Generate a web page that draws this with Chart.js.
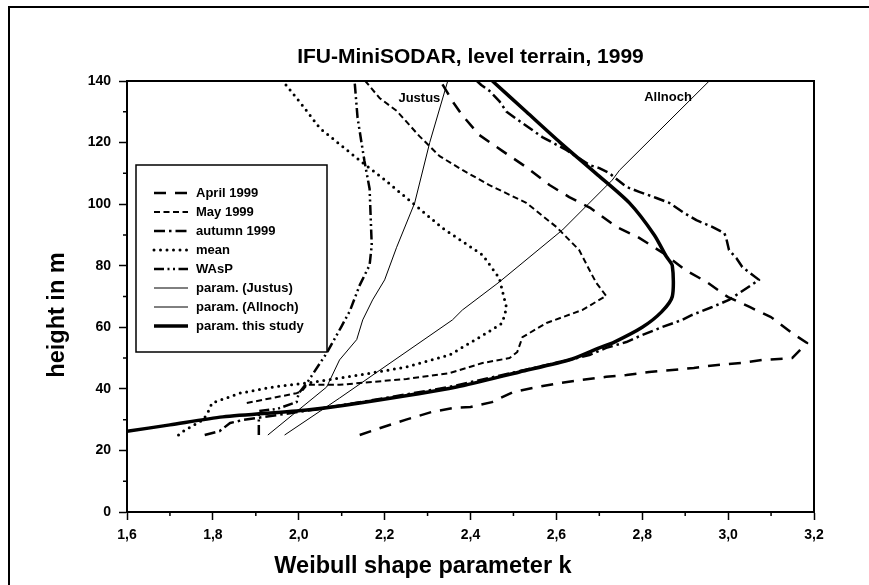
<!DOCTYPE html>
<html>
<head>
<meta charset="utf-8">
<script src="https://cdn.jsdelivr.net/npm/chart.js@4.4.1/dist/chart.umd.min.js"></script>
<style>
  html, body { margin: 0; padding: 0; background: #fff; }
  #wrap { width: 869px; height: 585px; position: relative; }
</style>
</head>
<body>
<div id="wrap"><canvas id="weibullChart" width="869" height="585"></canvas></div>
<script>
// values: shape parameter k against height in m
const aprilK = [2.142, 2.19, 2.25, 2.31, 2.36, 2.40, 2.45, 2.50, 2.556, 2.61, 2.66, 2.716, 2.763, 2.816, 2.87, 2.92, 2.97, 3.03, 3.08, 3.149, 3.184, 3.149, 3.10, 3.05, 3.00, 2.95, 2.90, 2.85, 2.79, 2.74, 2.68, 2.63, 2.584, 2.53, 2.474, 2.42, 2.38, 2.36, 2.33];
const aprilH = [25, 27.3, 30, 32.5, 33.8, 34.1, 35.7, 39, 40.6, 41.9, 42.9, 43.9, 44.5, 45.5, 46.1, 46.8, 47.7, 48.4, 49.4, 50, 54.9, 58.1, 63.3, 66.6, 69.8, 74.7, 78.6, 84, 89.3, 92.6, 98.7, 102.3, 106.2, 112, 117.3, 122.5, 129, 133, 140];

const mayK = [1.879, 1.995, 2.007, 2.019, 2.095, 2.142, 2.251, 2.351, 2.428, 2.491, 2.509, 2.521, 2.577, 2.66, 2.716, 2.693, 2.677, 2.653, 2.6, 2.53, 2.444, 2.381, 2.328, 2.281, 2.228, 2.188, 2.155];
const mayH = [35.4, 38.6, 39.2, 41.3, 41.3, 41.9, 43.2, 45.1, 48.4, 50, 52, 56.8, 61.4, 65.6, 70.2, 74.4, 78.6, 85.1, 92.6, 100.4, 106.2, 111.1, 115.6, 122.1, 130.3, 134.5, 140];

const autumnK = [1.781, 1.816, 1.84, 1.87, 2.0, 2.15, 2.35, 2.50, 2.63, 2.677, 2.716, 2.763, 2.80, 2.847, 2.893, 2.916, 2.963, 3.002, 3.072, 3.033, 3.019, 3.002, 2.995, 2.991, 2.963, 2.926, 2.898, 2.863, 2.833, 2.793, 2.763, 2.723, 2.70, 2.677, 2.623, 2.567, 2.514, 2.484, 2.467, 2.444, 2.425, 2.415];
const autumnH = [25, 26.3, 28.9, 29.9, 32.5, 35.8, 40.6, 45.3, 49.4, 51, 53.3, 55.2, 57.5, 60.1, 62.4, 64, 66.6, 68.9, 75.4, 79.6, 82.5, 85.1, 89.3, 90.6, 92.6, 94.8, 97.1, 100.4, 102, 104, 105.6, 110.1, 111.7, 112.7, 117.6, 121.8, 127, 130, 133.5, 136.8, 138.7, 140];

const meanK = [1.72, 1.735, 1.777, 1.788, 1.798, 1.863, 1.94, 2.019, 2.095, 2.142, 2.251, 2.351, 2.437, 2.474, 2.484, 2.467, 2.428, 2.335, 2.265, 2.195, 2.149, 2.049, 2.009, 1.963];
const meanH = [25, 26.6, 29.9, 32.2, 35.4, 38.6, 40.6, 41.9, 43.5, 44.5, 47.1, 51, 58.1, 61.4, 66.3, 76, 83.5, 92.2, 100.4, 108.5, 113.4, 124.7, 132, 140];

const waspK = [1.907, 1.907, 1.95, 1.995, 2.0, 2.019, 2.065, 2.1, 2.119, 2.142, 2.165, 2.17, 2.165, 2.153, 2.137, 2.13];
const waspH = [25, 32.8, 33.5, 35.7, 38.6, 41.9, 51.6, 60.4, 65.3, 73.7, 80.2, 86.7, 105, 114, 128, 140];

const justusK = [1.928, 2.065, 2.095, 2.135, 2.149, 2.172, 2.2, 2.228, 2.27, 2.305, 2.347];
const justusH = [25, 40.6, 49.4, 56, 62.4, 68.9, 75.4, 86, 100.4, 120, 140];

const allnochK = [1.967, 2.095, 2.358, 2.381, 2.467, 2.614, 2.73, 2.747, 2.956];
const allnochH = [25, 37, 62.4, 65.6, 74.7, 91.6, 107.8, 111, 140];

const studyK = [1.60, 1.70, 1.823, 2.019, 2.142, 2.367, 2.514, 2.637, 2.70, 2.735, 2.80, 2.845, 2.87, 2.87, 2.856, 2.828, 2.77, 2.692, 2.609, 2.53, 2.451];
const studyH = [26.2, 28.3, 30.9, 33.1, 35.4, 40.6, 45.5, 49.7, 53.3, 55.2, 60, 65, 70, 80, 83, 90, 100.4, 110, 120, 130, 140];

const seriesNames = ['April 1999', 'May 1999', 'autumn 1999', 'mean', 'WAsP', 'param. (Justus)', 'param. (Allnoch)', 'param. this study'];
const curveLabels = ['Justus', 'Allnoch'];
const curveLabelK = [2.281, 2.86];
const curveLabelH = [134.5, 134.8];

const FONT = "'Liberation Sans', Arial, Helvetica, sans-serif";

function pts(ks, hs) {
  return ks.map((k, i) => ({x: k, y: hs[i]}));
}

function ds(label, ks, hs, width, dash, cap) {
  return {
    label: label,
    data: pts(ks, hs),
    showLine: true,
    borderColor: '#000',
    backgroundColor: '#000',
    borderWidth: width,
    borderDash: dash,
    borderCapStyle: cap || 'butt',
    borderJoinStyle: 'round',
    pointRadius: 0,
    pointHoverRadius: 0,
    tension: 0
  };
}

const datasets = [
  ds(seriesNames[0], aprilK, aprilH, 2.5, [12, 9]),
  ds(seriesNames[1], mayK, mayH, 2, [6, 3.5]),
  ds(seriesNames[2], autumnK, autumnH, 2.5, [11, 4, 2.5, 4]),
  ds(seriesNames[3], meanK, meanH, 3, [0, 6.5], 'round'),
  ds(seriesNames[4], waspK, waspH, 2.5, [10, 3.5, 2, 3.5, 2, 3.5]),
  ds(seriesNames[5], justusK, justusH, 1, []),
  ds(seriesNames[6], allnochK, allnochH, 1, []),
  ds(seriesNames[7], studyK, studyH, 3.5, [])
];
datasets[7].tension = 0.25;

// frame, minor ticks, legend, axis titles and curve labels
const decor = {
  id: 'decor',
  afterDraw(chart) {
    const ctx = chart.ctx;
    const a = chart.chartArea;
    const xs = chart.scales.x, ys = chart.scales.y;
    ctx.save();
    ctx.strokeStyle = '#000';
    ctx.fillStyle = '#000';

    // minor ticks
    ctx.lineWidth = 1.5;
    ctx.beginPath();
    xs.ticks.forEach((t, i) => {
      if (i % 2) {
        const p = xs.getPixelForTick(i);
        ctx.moveTo(p, a.bottom); ctx.lineTo(p, a.bottom + 4);
      }
    });
    ys.ticks.forEach((t, i) => {
      if (i % 2) {
        const p = ys.getPixelForTick(i);
        ctx.moveTo(a.left, p); ctx.lineTo(a.left - 4, p);
      }
    });
    ctx.stroke();

    // plot frame
    ctx.lineWidth = 2;
    ctx.strokeRect(a.left, a.top, a.right - a.left, a.bottom - a.top);

    // outer frame (left and top edges visible)
    ctx.beginPath();
    ctx.moveTo(9, 585); ctx.lineTo(9, 7); ctx.lineTo(869, 7);
    ctx.stroke();

    // legend
    const lx = a.left + 9, ly = a.top + 84;
    ctx.fillStyle = '#fff';
    ctx.fillRect(lx, ly, 191, 187);
    ctx.lineWidth = 1.5;
    ctx.strokeRect(lx, ly, 191, 187);
    ctx.font = 'bold 13px ' + FONT;
    ctx.textBaseline = 'middle';
    ctx.textAlign = 'left';
    chart.data.datasets.forEach((d, i) => {
      const y = ly + 28 + i * 19;
      ctx.save();
      ctx.lineWidth = d.borderWidth;
      ctx.setLineDash(d.borderDash);
      ctx.lineCap = d.borderCapStyle;
      ctx.beginPath();
      ctx.moveTo(lx + 18, y); ctx.lineTo(lx + 52, y);
      ctx.stroke();
      ctx.restore();
      ctx.fillStyle = '#000';
      ctx.fillText(d.label, lx + 60, y);
    });

    // curve labels
    ctx.font = 'bold 13px ' + FONT;
    ctx.textAlign = 'center';
    curveLabels.forEach((t, i) => {
      ctx.fillText(t, xs.getPixelForValue(curveLabelK[i]), ys.getPixelForValue(curveLabelH[i]));
    });

    // axis titles
    ctx.font = 'bold 23.5px ' + FONT;
    ctx.fillText('Weibull shape parameter k', 423, 567);
    ctx.translate(58, 315);
    ctx.rotate(-Math.PI / 2);
    ctx.fillText('height in m', 0, 0);
    ctx.restore();
  }
};

const ctx = document.getElementById('weibullChart').getContext('2d');
const myChart = new Chart(ctx, {
  type: 'scatter',
  data: { datasets: datasets },
  options: {
    responsive: false,
    animation: false,
    events: [],
    layout: { padding: { left: 0, right: 55, top: 0, bottom: 0 } },
    plugins: {
      legend: { display: false },
      tooltip: { enabled: false },
      title: {
        display: true,
        fullSize: false,
        text: 'IFU-MiniSODAR, level terrain, 1999',
        color: '#000',
        font: { family: FONT, size: 21, weight: 'bold' },
        padding: { top: 45, bottom: 10.8 }
      }
    },
    scales: {
      x: {
        type: 'linear',
        position: 'bottom',
        min: 1.6,
        max: 3.2,
        afterFit(scale) { scale.height = 73; },
        border: { display: true, color: '#000', width: 2 },
        grid: {
          drawOnChartArea: false,
          drawTicks: true,
          tickLength: 8,
          tickWidth: 1.5,
          tickColor: c => (c.index % 2 ? 'rgba(0,0,0,0)' : '#000')
        },
        ticks: {
          stepSize: 0.1,
          autoSkip: false,
          maxRotation: 0,
          padding: 7,
          color: '#000',
          font: { family: FONT, size: 14, weight: 'bold' },
          callback: (v, i) => (i % 2 ? '' : v.toFixed(1).replace('.', ','))
        }
      },
      y: {
        type: 'linear',
        position: 'left',
        min: 0,
        max: 140,
        afterFit(scale) { scale.width = 127; },
        border: { display: true, color: '#000', width: 2 },
        grid: {
          drawOnChartArea: false,
          drawTicks: true,
          tickLength: 8,
          tickWidth: 1.5,
          tickColor: c => (c.index % 2 ? 'rgba(0,0,0,0)' : '#000')
        },
        ticks: {
          stepSize: 10,
          autoSkip: false,
          padding: 8,
          color: '#000',
          font: { family: FONT, size: 14, weight: 'bold' },
          callback: (v, i) => (i % 2 ? '' : String(v))
        }
      }
    }
  },
  plugins: [decor]
});
</script>
</body>
</html>
